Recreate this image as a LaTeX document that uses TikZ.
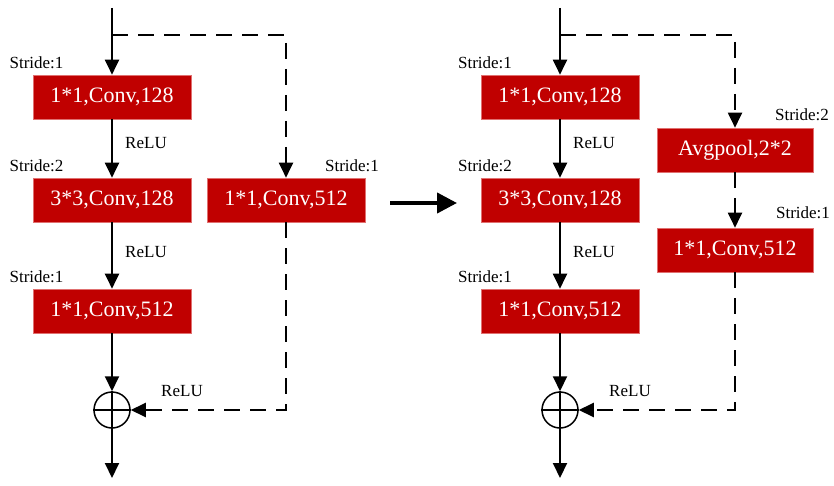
\documentclass[tikz,border=0pt]{standalone}
\usepackage{fontspec}
\setmainfont{Liberation Serif}
\usetikzlibrary{arrows.meta}
\definecolor{boxred}{HTML}{C00000}
\definecolor{boxedge}{HTML}{E07070}
\begin{document}
\begin{tikzpicture}[x=1pt,y=-1pt,
  blk/.style={rectangle,fill=boxred,draw=boxedge,line width=0.6pt,minimum width=158pt,minimum height=44pt,inner sep=0pt,text=white,font=\fontsize{22}{25}\selectfont},
  lbl/.style={inner sep=0pt,font=\fontsize{17}{20}\selectfont},
  arr/.style={line width=2pt,-{Triangle[width=14pt,length=15pt]}},
  dsh/.style={line width=2pt,dash pattern=on 16pt off 10pt},
  sumnode/.style={circle,draw,line width=1.5pt,minimum size=36pt,inner sep=0pt},
  big/.style={line width=4pt,-{Triangle[width=20pt,length=20pt]}}
]
\useasboundingbox (0,0) rectangle (834,486);
% ---------- left block ----------
\coordinate (Ltop) at (112,8);
\coordinate (Lbr) at (112,35);
\coordinate (Lend) at (112,478);
\node[blk] (L1) at (112,97) {1*1,Conv,128};
\node[blk] (L2) at (112,200) {3*3,Conv,128};
\node[blk] (L3) at (112,311) {1*1,Conv,512};
\node[blk] (LS) at (286,200) {1*1,Conv,512};
\node[sumnode] (Lsum) at (112,410) {};
\draw[line width=1.5pt] (Lsum.north) -- (Lsum.south) (Lsum.west) -- (Lsum.east);
\draw[arr] (Ltop) -- (L1);
\draw[arr] (L1) -- (L2);
\draw[arr] (L2) -- (L3);
\draw[arr] (L3) -- (Lsum);
\draw[arr] (Lsum) -- (Lend);
\draw[dsh,-{Triangle[width=14pt,length=15pt]}] (Lbr) -| (LS);
\draw[dsh,-{Triangle[width=14pt,length=15pt]}] (LS.south) |- (Lsum);
\node[lbl] at (36.5,63) {Stride:1};
\node[lbl] at (36.5,166) {Stride:2};
\node[lbl] at (36.5,277) {Stride:1};
\node[lbl] at (352,166) {Stride:1};
\node[lbl] at (146,143) {ReLU};
\node[lbl] at (146,252) {ReLU};
\node[lbl] at (182,391) {ReLU};
% ---------- middle arrow ----------
\coordinate (Ma) at (390,203);
\coordinate (Mb) at (457,203);
\draw[big] (Ma) -- (Mb);
% ---------- right block ----------
\coordinate (Rtop) at (560,8);
\coordinate (Rbr) at (560,35);
\coordinate (Rend) at (560,478);
\node[blk] (R1) at (560,97) {1*1,Conv,128};
\node[blk] (R2) at (560,200) {3*3,Conv,128};
\node[blk] (R3) at (560,311) {1*1,Conv,512};
\node[blk,minimum width=156pt] (RA) at (735,150) {Avgpool,2*2};
\node[blk,minimum width=156pt] (RS) at (735,250) {1*1,Conv,512};
\node[sumnode] (Rsum) at (560,410) {};
\draw[line width=1.5pt] (Rsum.north) -- (Rsum.south) (Rsum.west) -- (Rsum.east);
\draw[arr] (Rtop) -- (R1);
\draw[arr] (R1) -- (R2);
\draw[arr] (R2) -- (R3);
\draw[arr] (R3) -- (Rsum);
\draw[arr] (Rsum) -- (Rend);
\draw[dsh,-{Triangle[width=14pt,length=15pt]}] (Rbr) -| (RA);
\draw[dsh,-{Triangle[width=14pt,length=15pt]}] (RA) -- (RS);
\draw[dsh,-{Triangle[width=14pt,length=15pt]}] (RS.south) |- (Rsum);
\node[lbl] at (485,63) {Stride:1};
\node[lbl] at (485,166) {Stride:2};
\node[lbl] at (485,277) {Stride:1};
\node[lbl] at (802,115) {Stride:2};
\node[lbl] at (803,213) {Stride:1};
\node[lbl] at (594,143) {ReLU};
\node[lbl] at (594,252) {ReLU};
\node[lbl] at (630,391) {ReLU};
\end{tikzpicture}
\end{document}
